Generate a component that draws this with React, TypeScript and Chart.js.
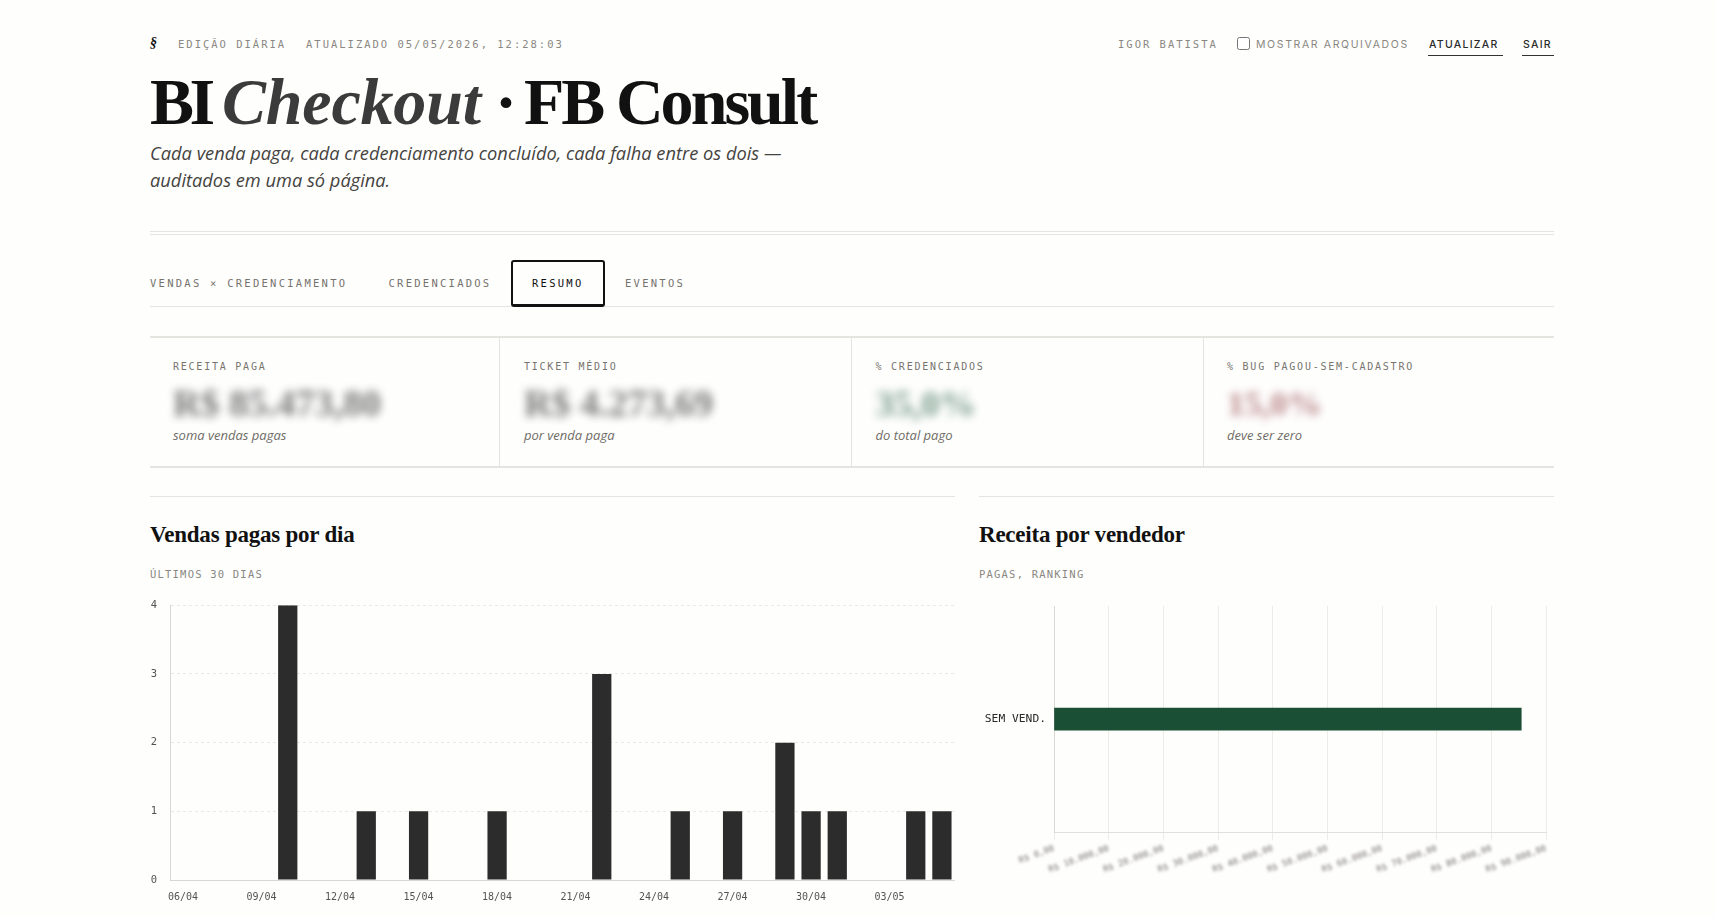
import { useEffect, useRef } from 'react';
import type { CSSProperties, ReactNode } from 'react';
import { Chart, registerables } from 'chart.js';

Chart.register(...registerables);

const MONO = '"DejaVu Sans Mono", monospace';
const SERIF = '"Liberation Serif", serif';
const SANS = '"Open Sans", sans-serif';
const CAPS = 'Inter, sans-serif';

// 06/04 .. 05/05
const days = [
	'06/04', '07/04', '08/04', '09/04', '10/04', '11/04', '12/04', '13/04', '14/04', '15/04',
	'16/04', '17/04', '18/04', '19/04', '20/04', '21/04', '22/04', '23/04', '24/04', '25/04',
	'26/04', '27/04', '28/04', '29/04', '30/04', '01/05', '02/05', '03/05', '04/05', '05/05',
];
const salesPerDay = [0, 0, 0, 0, 4, 0, 0, 1, 0, 1, 0, 0, 1, 0, 0, 0, 3, 0, 0, 1, 0, 1, 0, 2, 1, 1, 0, 0, 1, 1];

const sellers = ['SEM VEND.'];
const revenue = [85473.8];

const tabs = [
	{ label: 'VENDAS × CREDENCIAMENTO', x: 150 },
	{ label: 'CREDENCIADOS', x: 388.5 },
	{ label: 'RESUMO', x: 532, active: true },
	{ label: 'EVENTOS', x: 625 },
];
const kpis = [
	{ x: 173, label: 'RECEITA PAGA', value: 'R$ 85.473,80', sub: 'soma vendas pagas', color: '#1a1a1a', size: 38 },
	{ x: 524, label: 'TICKET MÉDIO', value: 'R$ 4.273,69', sub: 'por venda paga', color: '#1a1a1a', size: 38 },
	{ x: 875.5, label: '% CREDENCIADOS', value: '35,0%', sub: 'do total pago', color: '#1f5a3c', size: 36.5 },
	{ x: 1227, label: '% BUG PAGOU-SEM-CADASTRO', value: '15,0%', sub: 'deve ser zero', color: '#8a2f35', size: 34.5 },
];
const dividers = [499, 851, 1203];

// blur only the x labels of the revenue chart, they are hidden in the original
const blurXLabels = {
	id: 'blurXLabels',
	afterLayout(chart: any) {
		const scale = chart.scales.x;
		const draw = scale.drawLabels;
		if (scale._blurred) return;
		scale._blurred = true;
		scale.drawLabels = function (area: any) {
			chart.ctx.save();
			chart.ctx.filter = 'blur(1.8px)';
			draw.call(scale, area);
			chart.ctx.restore();
		};
	},
};

function T({ x, y, style, children }: { x: number; y: number; style?: CSSProperties; children: ReactNode }) {
	return (
		<div style={{ position: 'absolute', left: x, top: y, transform: 'translateY(-50%)', whiteSpace: 'nowrap', ...style }}>
			{children}
		</div>
	);
}

function Line({ x, y, w, h = 1, c = '#e6e4df' }: { x: number; y: number; w: number; h?: number; c?: string }) {
	return <div style={{ position: 'absolute', left: x, top: y, width: w, height: h, background: c }} />;
}

function SalesChart() {
	const ref = useRef<HTMLCanvasElement>(null);
	useEffect(() => {
		if (!ref.current) return;
		const chart = new Chart(ref.current, {
			type: 'bar',
			data: {
				labels: days,
				datasets: [{ data: salesPerDay, backgroundColor: '#2c2c2c', categoryPercentage: 0.8, barPercentage: 0.92 }],
			},
			options: {
				animation: false,
				responsive: false,
				layout: { padding: { top: 8, right: 0 } },
				plugins: { legend: { display: false }, tooltip: { enabled: false } },
				scales: {
					x: {
						grid: { display: false },
						border: { color: '#d9d7d3' },
						ticks: {
							maxTicksLimit: 10,
							maxRotation: 0,
							color: '#55534f',
							padding: 3,
							font: { family: MONO, size: 10 },
						},
					},
					y: {
						min: 0,
						max: 4,
						afterFit: (s: any) => { s.width = 20; },
						// the tick length only pushes the labels away from the axis
						grid: { color: '#ebe9e5', tickColor: 'transparent', tickLength: 11 },
						border: { color: '#d9d7d3', dash: [3, 3] },
						ticks: { stepSize: 1, color: '#55534f', padding: 2, font: { family: MONO, size: 10.5 } },
					},
				},
			},
		});
		return () => chart.destroy();
	}, []);
	return <canvas ref={ref} width={805} height={309} style={{ position: 'absolute', left: 150, top: 597 }} />;
}

function RevenueChart() {
	const ref = useRef<HTMLCanvasElement>(null);
	useEffect(() => {
		if (!ref.current) return;
		const chart = new Chart(ref.current, {
			type: 'bar',
			data: {
				labels: sellers,
				datasets: [{ data: revenue, backgroundColor: '#1a4f35', barThickness: 22 }],
			},
			plugins: [blurXLabels],
			options: {
				indexAxis: 'y',
				animation: false,
				responsive: false,
				layout: { padding: { top: 8, right: 8 } },
				plugins: { legend: { display: false }, tooltip: { enabled: false } },
				scales: {
					x: {
						min: 0,
						max: 90000,
						grid: { color: '#eeece9', tickLength: 8 },
						border: { color: '#e2e0dc' },
						ticks: {
							stepSize: 10000,
							minRotation: 20,
							maxRotation: 20,
							color: '#77746f',
							font: { family: MONO, size: 8.8 },
							callback: (v: any) =>
								'R$ ' + Number(v).toLocaleString('pt-BR', { minimumFractionDigits: 2, maximumFractionDigits: 2 }),
						},
					},
					y: {
						afterFit: (s: any) => { s.width = 75; },
						grid: { display: false },
						border: { color: '#d9d7d3' },
						ticks: { color: '#2a2a2a', padding: 0, font: { family: MONO, size: 11.3 } },
					},
				},
			},
		});
		return () => chart.destroy();
	}, []);
	return <canvas ref={ref} width={575} height={280} style={{ position: 'absolute', left: 979, top: 598 }} />;
}

export default function App() {
	const small: CSSProperties = { fontFamily: MONO, fontSize: 10.5, letterSpacing: '0.19em', color: '#8a8781' };
	const sub: CSSProperties = { ...small, letterSpacing: '0.115em' };
	const tab: CSSProperties = { fontFamily: MONO, fontSize: 10.5, letterSpacing: '0.215em', color: '#76736d' };
	const action: CSSProperties = { fontFamily: CAPS, fontSize: 10.5, fontWeight: 500, letterSpacing: '0.12em', color: '#2a2a2a' };
	const h2: CSSProperties = { fontFamily: SERIF, fontSize: 23, fontWeight: 700, letterSpacing: '-0.01em', color: '#111' };
	const title: CSSProperties = { fontFamily: SERIF, fontSize: 66, fontWeight: 700, color: '#111' };
	const lead: CSSProperties = { fontFamily: SANS, fontSize: 18.25, fontStyle: 'italic', color: '#45433f' };

	return (
		<div style={{ position: 'fixed', inset: 0, background: '#fefefd', overflow: 'hidden', filter: 'blur(0.3px)' }}>
			<T x={150} y={43} style={{ fontFamily: SERIF, fontSize: 14, fontWeight: 700, fontStyle: 'italic', color: '#111' }}>§</T>
			<T x={178} y={44} style={small}>EDIÇÃO DIÁRIA</T>
			<T x={306} y={44} style={small}>ATUALIZADO 05/05/2026, 12:28:03</T>

			<T x={1118} y={44} style={small}>IGOR BATISTA</T>
			<input type="checkbox" style={{ position: 'absolute', left: 1237, top: 37, width: 13, height: 13, margin: 0 }} />
			<T x={1256} y={44} style={{ ...action, fontWeight: 400, letterSpacing: '0.155em', color: '#8a8781' }}>MOSTRAR ARQUIVADOS</T>
			<T x={1429} y={44} style={action}>ATUALIZAR</T>
			<Line x={1428} y={55} w={75} c="#333" />
			<T x={1523} y={44} style={action}>SAIR</T>
			<Line x={1522} y={55} w={32} c="#333" />

			<T x={150} y={102} style={{ ...title, letterSpacing: '-0.07em' }}>BI</T>
			<T x={222} y={102} style={{ ...title, fontStyle: 'italic', letterSpacing: '-0.003em', color: '#3b3b3b' }}>Checkout</T>
			<T x={495} y={102} style={title}>·</T>
			<T x={524} y={102} style={{ ...title, letterSpacing: '-0.045em' }}>FB Consult</T>

			<T x={150} y={151.5} style={lead}>Cada venda paga, cada credenciamento concluído, cada falha entre os dois —</T>
			<T x={150} y={178.5} style={lead}>auditados em uma só página.</T>

			<Line x={150} y={231} w={1404} />
			<Line x={150} y={234} w={1404} />

			{tabs.map((t) => (
				<T key={t.label} x={t.x} y={283} style={t.active ? { ...tab, color: '#111' } : tab}>{t.label}</T>
			))}
			<Line x={150} y={306} w={1404} />
			<div style={{ position: 'absolute', left: 511, top: 260, width: 94, height: 47, boxSizing: 'border-box', border: '2px solid #111', borderRadius: 3, borderBottomWidth: 3 }} />

			<Line x={150} y={336} w={1404} h={1.5} />
			<Line x={150} y={466} w={1404} h={1.5} />
			{dividers.map((x) => (
				<div key={x} style={{ position: 'absolute', left: x, top: 337, width: 1, height: 130, background: '#e6e4df' }} />
			))}
			{kpis.map((k) => (
				<div key={k.label}>
					<T x={k.x} y={366} style={{ ...small, fontSize: 10, letterSpacing: '0.177em', color: '#77746e' }}>{k.label}</T>
					<T x={k.x} y={403} style={{ fontFamily: SERIF, fontSize: k.size, fontWeight: 700, color: k.color, filter: 'blur(4px)', opacity: 0.6 }}>{k.value}</T>
					<T x={k.x} y={435} style={{ fontFamily: SANS, fontSize: 13, fontStyle: 'italic', color: '#6f6c66' }}>{k.sub}</T>
				</div>
			))}

			<Line x={150} y={496} w={805} />
			<T x={150} y={535} style={h2}>Vendas pagas por dia</T>
			<T x={150} y={574} style={sub}>ÚLTIMOS 30 DIAS</T>
			<SalesChart />

			<Line x={979} y={496} w={575} />
			<T x={979} y={535} style={h2}>Receita por vendedor</T>
			<T x={979} y={574} style={sub}>PAGAS, RANKING</T>
			<RevenueChart />
		</div>
	);
}
